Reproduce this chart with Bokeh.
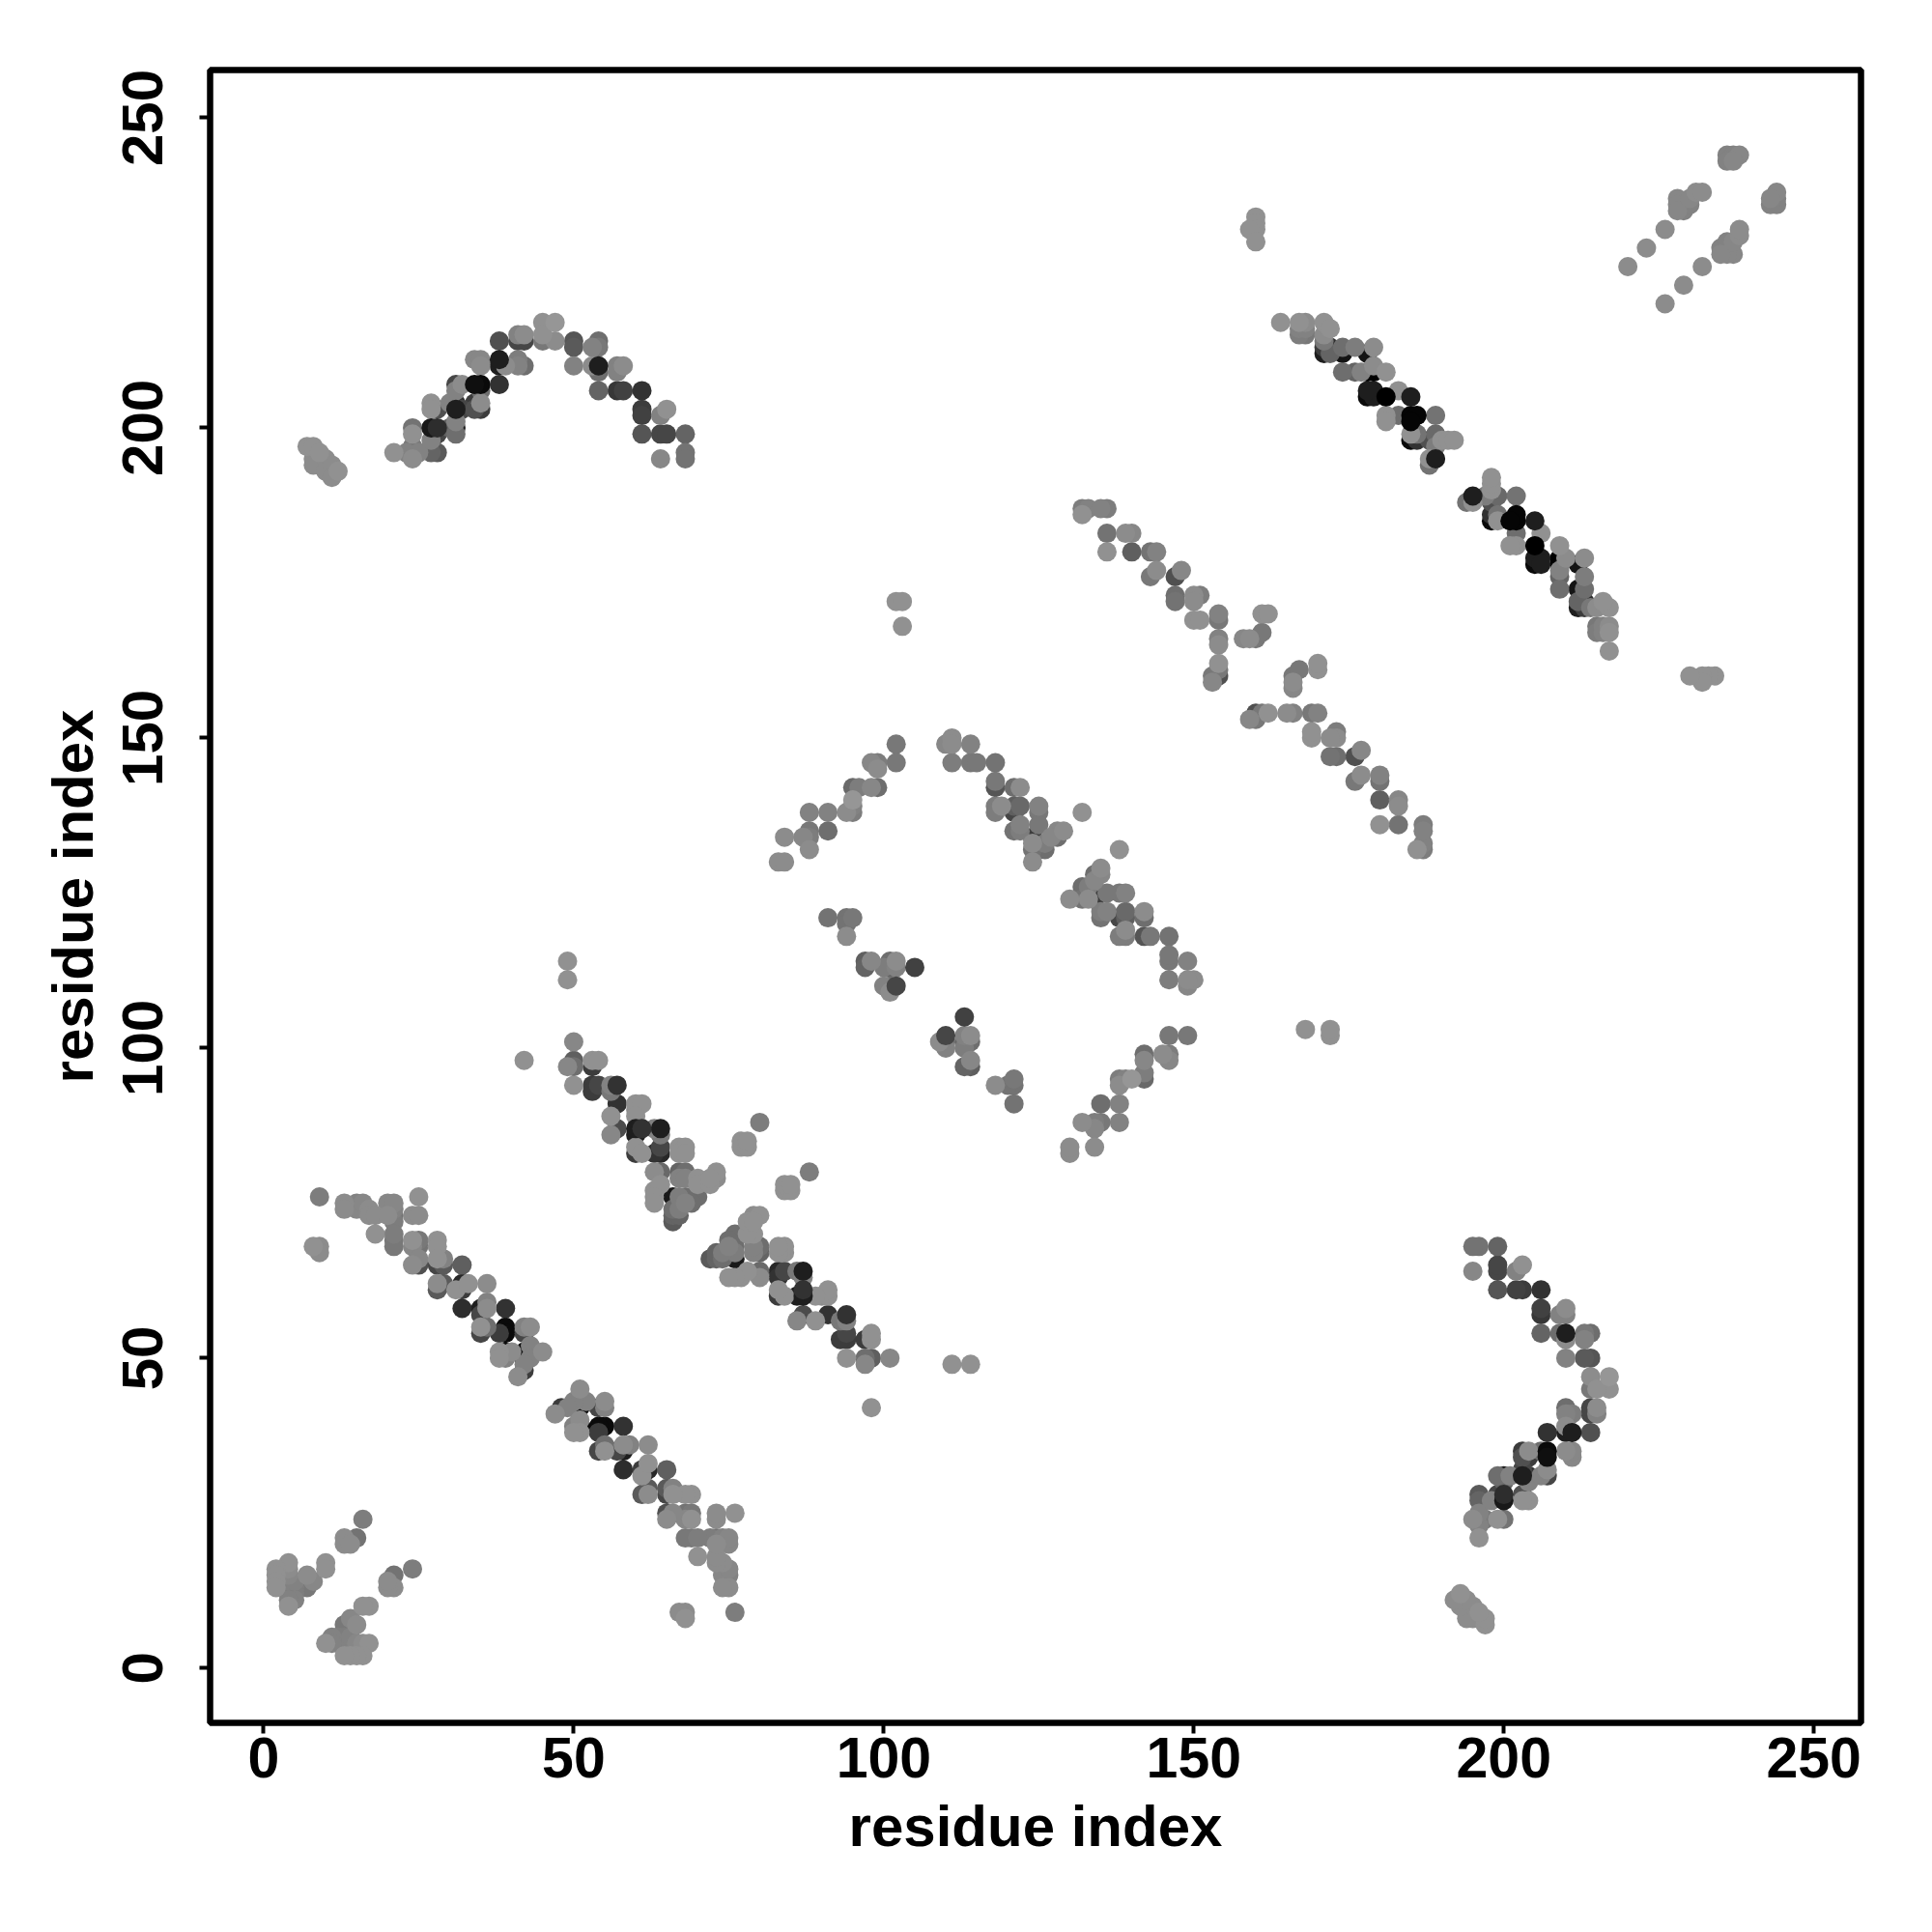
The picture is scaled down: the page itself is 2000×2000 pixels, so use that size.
from bokeh.plotting import figure
from bokeh.embed import file_html
from bokeh.resources import INLINE
from bokeh.models import FixedTicker, Range1d

# contact points (i, j, grey level) for j > i; the map is symmetric
origin = [(16,24,125),(15,21,115),(13,21,140),(13,20,140),(14,20,140),(10,17,145),(10,16,145),(4,17,145),(2,16,145),(2,15,145),(2,14,145),(2,13,145),(4,16,140),(4,15,135),(4,14,130),(4,13,125),(4,12,125),(4,10,145),(5,13,125),(5,11,130),(4,11,130),(7,15,140),(7,13,120),(8,14,135),(5,14,130),(5,12,125)]
strip_b = [(8,68,145),(9,68,140),(9,67,140),(9,76,125),(13,75,140),(13,74,140),(15,75,130),(15,74,135),(16,75,135),(17,74,140),(17,73,140),(18,73,140),(20,75,135),(21,75,135),(21,74,130),(21,73,115),(20,73,140),(21,72,125),(25,76,145),(24,73,140),(25,73,140),(18,70,145),(21,70,125),(21,69,120),(21,68,120),(24,69,145),(25,69,120),(25,68,115),(24,68,135),(28,69,145),(28,68,145),(24,65,140),(25,65,80),(25,66,135),(28,66,145),(29,66,130),(29,65,90),(28,65,70),(32,65,95),(28,62,140),(28,61,90),(29,62,90),(31,61,145),(32,62,40),(32,61,60),(33,62,145),(36,62,140),(32,58,45),(35,58,30),(35,57,70),(36,59,130),(36,58,140),(39,58,50),(35,55,145),(36,55,110),(35,54,70),(38,54,60),(39,55,10),(39,54,10),(42,55,130),(43,55,140),(42,54,70),(38,51,145),(38,50,145),(39,50,130),(39,51,10),(40,51,140),(42,51,10),(42,50,15),(43,52,130),(43,50,130),(43,51,10),(45,51,140),(42,48,60),(42,49,130),(41,47,140)]
strip_c = [(50,101,135),(49,97,135),(50,98,95),(50,97,110),(53,97,60),(53,98,145),(54,98,145),(50,94,145),(53,94,60),(53,93,60),(54,94,70),(56,94,130),(56,93,120),(57,94,50),(57,91,50),(60,91,145),(61,91,145),(60,90,140),(60,89,145),(56,89,145),(57,87,75),(56,86,135),(60,87,30),(60,86,30),(61,87,50),(63,87,130),(64,87,30),(64,86,120),(60,83,60),(60,84,145),(61,83,145),(63,83,50),(64,84,70),(64,83,40),(67,84,145),(68,84,145),(67,83,145),(68,83,145),(63,80,140),(64,80,105),(67,80,100),(68,80,110),(67,79,130),(68,79,130),(70,79,145),(70,78,145),(72,78,145),(73,80,145),(73,79,140),(72,79,145),(63,77,145),(64,78,145),(63,76,145),(63,75,145),(66,76,25),(67,76,125),(68,76,110),(69,76,110),(70,76,110),(68,75,130),(69,75,110),(66,74,110),(67,74,125),(66,73,100),(67,73,100),(66,72,90),(77,84,145),(77,85,145),(78,84,145),(78,85,145),(80,88,125)]
isolated = [(42,98,145),(49,114,145),(49,111,145),(102,172,145),(103,172,145),(103,168,145),(160,234,145),(160,233,145),(160,232,145),(159,232,145),(160,230,145)]
cluster_d = [(7,197,145),(8,197,145),(9,196,145),(8,195,140),(8,194,140),(9,194,135),(10,195,140),(10,193,140),(11,194,140),(12,193,145),(11,192,140)]
arc_d = [(21,196,145),(23,196,130),(24,195,140),(24,200,115),(24,199,145),(24,197,120),(24,196,35),(25,196,130),(27,200,25),(28,200,45),(28,199,70),(27,198,130),(27,196,100),(28,196,90),(27,204,145),(27,203,145),(28,203,80),(31,203,30),(32,203,70),(30,204,130),(31,204,50),(31,201,130),(31,200,30),(31,199,110),(30,200,100),(31,207,70),(32,207,140),(31,206,130),(34,207,15),(35,207,10),(35,206,110),(34,204,60),(35,204,140),(35,203,60),(34,203,80),(38,207,50),(34,211,135),(35,211,135),(35,210,140),(38,211,30),(38,210,30),(39,210,140),(41,211,125),(42,210,110),(41,210,130),(38,214,80),(41,215,130),(42,215,140),(41,214,70),(42,214,70),(45,217,145),(47,217,150),(45,215,145),(45,214,120),(47,214,140),(50,214,85),(50,213,90),(50,210,130),(53,213,130),(54,214,110),(54,213,120),(53,210,140),(54,210,30),(54,209,110),(57,210,130),(58,210,140),(57,209,130),(54,206,100),(57,206,55),(58,206,65),(61,206,50),(61,203,60),(61,202,65),(65,203,145),(64,202,130),(61,199,85),(64,199,70),(65,199,70),(68,199,100),(64,195,135),(68,196,115),(68,195,115)]
diamond_ul = [(102,149,120),(102,146,120),(98,146,135),(99,146,125),(99,145,140),(95,142,105),(96,142,125),(98,142,135),(99,142,110),(95,140,150),(94,138,140),(95,138,125),(95,139,130),(88,138,130),(91,138,130),(91,135,110),(88,135,120),(87,134,135),(88,134,125),(84,134,140),(88,132,140),(83,130,140),(84,130,140)]
diamond_top = [(110,149,135),(111,150,140),(111,149,140),(114,149,130),(111,146,125),(114,146,120),(115,146,120),(118,146,115),(118,143,120),(118,142,85),(121,142,110),(122,142,140),(118,139,125),(119,139,140),(121,139,95),(122,139,105),(125,139,130),(125,138,120),(121,138,70),(118,138,125),(121,135,115),(122,136,130),(122,135,125),(124,134,60),(125,136,120),(129,135,140),(128,135,135),(128,134,110),(127,134,135),(126,133,125),(125,132,100),(126,132,110),(124,132,115),(124,133,140),(124,130,140),(132,138,145)]
diamond_in = [(91,121,115),(94,121,115),(95,121,120),(94,120,115),(94,118,140),(97,114,95),(98,114,135),(97,113,100),(101,114,110),(102,114,140),(100,113,125),(101,113,100),(102,113,130),(105,113,60),(100,110,130),(101,110,110),(102,110,70),(101,109,140)]
strip_e = [(164,217,145),(167,217,145),(168,217,140),(167,216,130),(168,216,130),(167,215,125),(168,215,120),(171,217,145),(172,216,145),(171,215,140),(171,214,120),(171,213,60),(171,212,30),(172,213,45),(172,212,100),(174,213,110),(174,212,20),(176,213,125),(178,212,20),(179,213,140),(174,209,110),(176,209,100),(178,209,0),(177,209,130),(179,210,140),(179,209,0),(181,209,145),(178,206,30),(178,205,10),(179,206,30),(179,205,30),(181,205,0),(183,206,145),(185,205,30),(181,202,145),(181,201,145),(183,202,110),(185,202,5),(186,202,5),(185,201,5),(189,202,115),(185,198,10),(186,199,115),(186,198,50),(185,199,145),(188,198,80),(189,199,105),(189,198,5),(190,198,145),(191,198,145),(192,198,145),(189,197,125),(189,195,30),(188,195,145),(188,194,115)]
strip_f = [(132,187,125),(133,187,130),(132,186,145),(135,187,130),(136,187,125),(136,183,115),(139,183,140),(140,183,135),(136,180,145),(140,180,95),(143,180,115),(144,180,130),(144,177,140),(143,176,120),(148,177,135),(147,176,80),(147,173,110),(147,172,115),(150,173,140),(151,173,125),(150,172,140),(150,169,145),(151,169,145),(154,170,130),(154,169,120),(154,166,130),(154,165,140),(158,166,135),(159,166,140),(160,166,120),(161,167,120),(161,170,145),(162,170,145),(154,162,145),(154,161,120),(154,160,80),(153,160,120),(153,159,135)]
corner = [(220,226,140),(223,229,140),(226,232,140),(228,237,135),(228,236,135),(228,235,135),(229,235,130),(229,236,130),(230,236,130),(230,237,135),(231,238,140),(232,238,140),(236,244,130),(237,244,130),(238,244,135),(236,243,130),(237,243,135)]
# dark contacts printed over their neighbours
late = [(64,87,30),(57,94,50),(54,210,30),(102,110,70),(105,113,65),(60,87,30),(61,87,50),(27,200,25),(28,200,45),(31,203,30),(38,211,30),(38,207,50),(34,207,15),(35,207,10),(178,206,30),(181,205,0),(185,202,5),(186,202,5),(185,201,5),(189,195,30),(185,205,30)]

x_ticks = [0, 50, 100, 150, 200, 250]
y_ticks = [0, 50, 100, 150, 200, 250]
axis_title = "residue index"

late_keys = {t[:2] for t in late}
half = origin + strip_b + strip_c + isolated + cluster_d + arc_d + diamond_ul + diamond_top + diamond_in + strip_e + strip_f + corner
half = sorted((t for t in half if t[:2] not in late_keys), key=lambda t: t[2]) + late
xs = [t[0] for t in half] + [t[1] for t in half]
ys = [t[1] for t in half] + [t[0] for t in half]
greys = [t[2] for t in half] * 2
order = sorted(range(len(xs)), key=lambda k: (k % len(half) >= len(half) - len(late), greys[k]))
xs = [xs[k] for k in order]
ys = [ys[k] for k in order]
colors = ["#%02x%02x%02x" % (greys[k], greys[k], greys[k]) for k in order]

W, H = 1984, 1984
p = figure(width=W, height=H, output_backend="svg", toolbar_location=None,
           x_range=Range1d(-8.64, 257.6), y_range=Range1d(-8.82, 257.7),
           min_border_left=217, min_border_right=W - 1926, min_border_top=72, min_border_bottom=H - 1783)
p.grid.visible = False
p.outline_line_color = "black"
p.outline_line_width = 6.5
p.background_fill_color = "white"
p.scatter(xs, ys, size=20, color=colors, line_color=None, marker="circle")

for ax, ticks in ((p.xaxis[0], x_ticks), (p.yaxis[0], y_ticks)):
    ax.ticker = FixedTicker(ticks=ticks)
    ax.axis_line_color = None
    ax.major_tick_line_color = "black"
    ax.major_tick_line_width = 4
    ax.major_tick_out = 11
    ax.major_tick_in = 0
    ax.minor_tick_line_color = None
    ax.major_label_text_font = "Liberation Sans"
    ax.major_label_text_font_style = "bold"
    ax.major_label_text_font_size = "59px"
    ax.major_label_text_color = "black"
    ax.axis_label = axis_title
    ax.axis_label_text_font = "Liberation Sans"
    ax.axis_label_text_font_style = "bold"
    ax.axis_label_text_font_size = "60px"
    ax.axis_label_text_color = "black"
p.yaxis[0].major_label_text_font_size = "60px"
p.yaxis[0].major_label_orientation = "parallel"
p.xaxis[0].major_label_standoff = 4
p.yaxis[0].major_label_standoff = 38
p.xaxis[0].axis_label_standoff = 14
p.yaxis[0].axis_label_standoff = 16

open("out.html", "w").write(file_html(p, INLINE))
